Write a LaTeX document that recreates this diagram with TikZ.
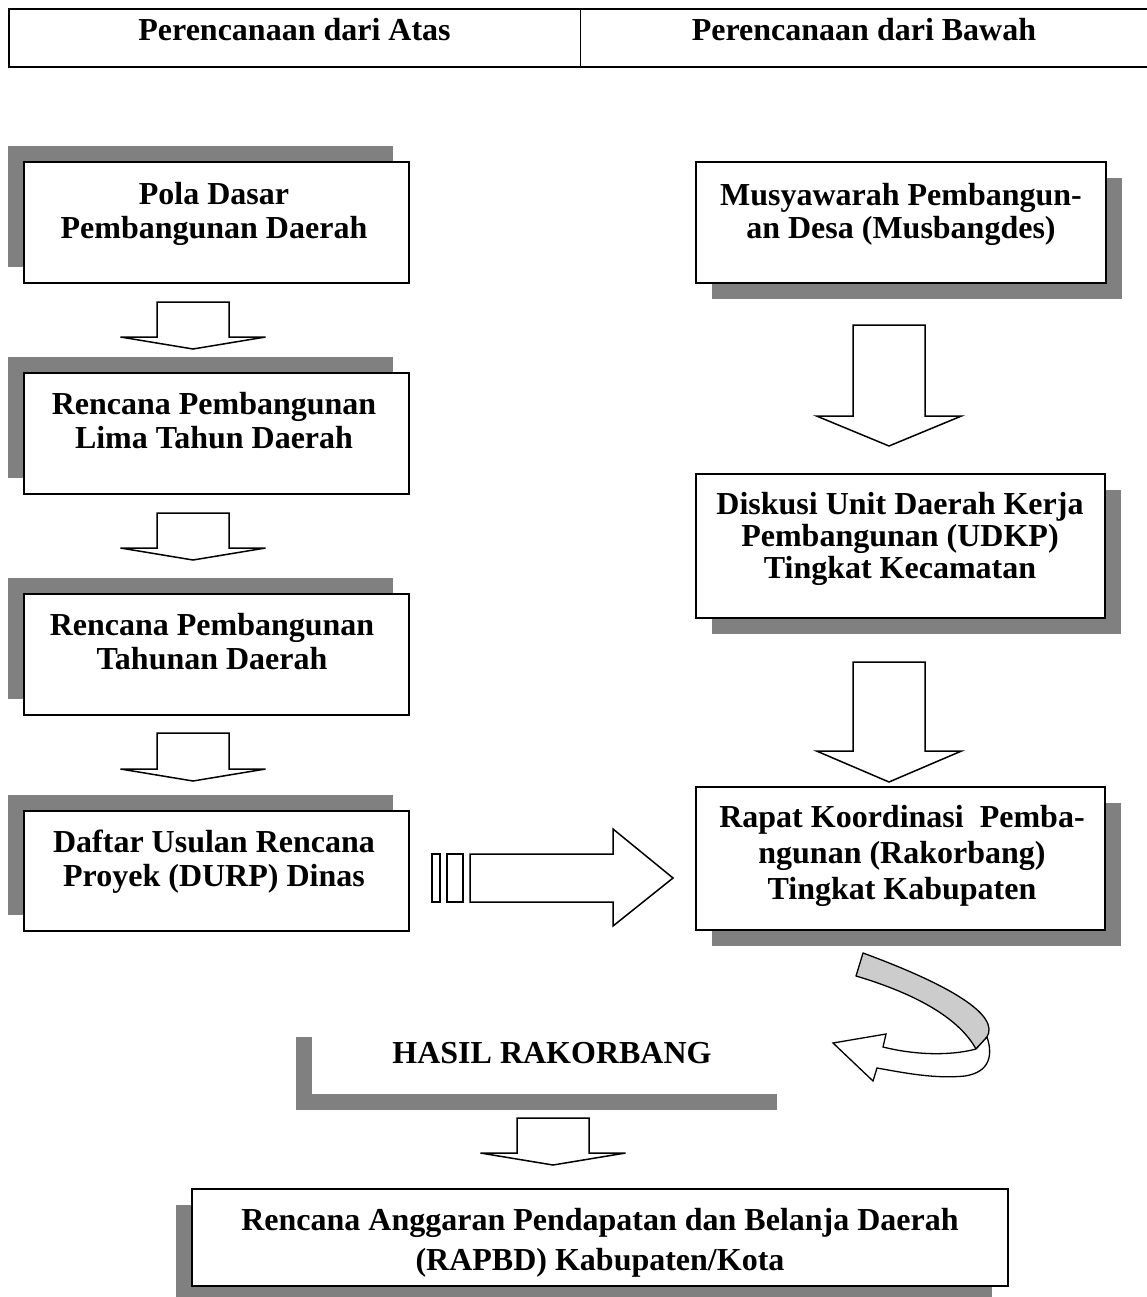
\documentclass[tikz,border=0pt]{standalone}
\usepackage{fontspec}
\setmainfont{Liberation Serif}
\definecolor{shd}{HTML}{808080}
\definecolor{curvg}{HTML}{CCCCCC}
\newcommand{\lnstrut}{\rule[-7pt]{0pt}{29pt}}
\begin{document}
\begin{tikzpicture}[x=1pt,y=-1pt,
  box/.style={draw, line width=1.8pt, fill=white, inner sep=0pt, outer sep=0pt},
  txt/.style={font=\bfseries\fontsize{32}{#1}\selectfont, align=center, inner sep=0pt},
  txt/.default=34,
  blockarrow/.style={draw, line width=1.5pt, fill=white, line join=miter},
  pics/downarr/.style 2 args={code={
    \draw[blockarrow] (-36,0) -- (36,0) -- (36,#1) -- (72.5,#1) -- (0,{#1+#2}) -- (-72.5,#1) -- (-36,#1) -- cycle;}}
]
\useasboundingbox (0,0) rectangle (1147,1297);

% header table
\draw[line width=2pt] (1147,9) -- (9,9) -- (9,67) -- (1147,67);
\draw[line width=1pt] (580,9) -- (580,67);
\node[txt] (hA) at (294.5,33) {\lnstrut Perencanaan dari Atas};
\node[txt] (hB) at (864,33) {\lnstrut Perencanaan dari Bawah};

% left column
\fill[shd] (8,146) rectangle (393,267);
\node[box, minimum width=385pt, minimum height=121pt] (pola) at (216.5,222.5) {};
\node[txt] (polat) at (214,213.5) {\lnstrut Pola Dasar\\\lnstrut Pembangunan Daerah};

\pic (a1) at (193,302) {downarr={35}{12}};

\fill[shd] (8,357) rectangle (393,478);
\node[box, minimum width=385pt, minimum height=121pt] (lima) at (216.5,433.5) {};
\node[txt] (limat) at (214,424) {\lnstrut Rencana Pembangunan\\\lnstrut Lima Tahun Daerah};

\pic (a2) at (193,513) {downarr={35}{12}};

\fill[shd] (8,578) rectangle (393,699);
\node[box, minimum width=385pt, minimum height=121pt] (tahun) at (216.5,654.5) {};
\node[txt] (tahunt) at (212,644.5) {\lnstrut Rencana Pembangunan\\\lnstrut Tahunan Daerah};

\pic (a3) at (193,733) {downarr={36}{12}};

\fill[shd] (8,795) rectangle (393,915);
\node[box, minimum width=385pt, minimum height=120pt] (durp) at (216.5,871) {};
\node[txt] (durpt) at (214,862) {\lnstrut Daftar Usulan Rencana\\\lnstrut Proyek (DURP) Dinas};

% right column
\fill[shd] (712,178) rectangle (1122,299);
\node[box, minimum width=410pt, minimum height=121pt] (musb) at (901,222.5) {};
\node[txt=33] (musbt) at (901,214.5) {\lnstrut Musyawarah Pembangun-\\\lnstrut an Desa (Musbangdes)};

\pic (a4) at (889,325) {downarr={91}{30}};

\fill[shd] (712,490) rectangle (1121,634);
\node[box, minimum width=409pt, minimum height=144pt] (udkp) at (900.5,546) {};
\node[txt=32] (udkpt) at (900,539) {\lnstrut Diskusi Unit Daerah Kerja\\\lnstrut Pembangunan (UDKP)\\\lnstrut Tingkat Kecamatan};

\pic (a5) at (889,662) {downarr={89}{31}};

\fill[shd] (712,803) rectangle (1121,946);
\node[box, minimum width=409pt, minimum height=143pt] (rakor) at (900.5,858.5) {};
\node[txt=36] (rakort) at (902,856) {\lnstrut Rapat Koordinasi~ Pemba-\\\lnstrut ngunan (Rakorbang)\\\lnstrut Tingkat Kabupaten};

% horizontal block arrow
\draw[blockarrow] (432,854) rectangle (440,902);
\draw[blockarrow] (447,854) rectangle (463,902);
\draw[blockarrow] (470,854) -- (613,854) -- (613,829) -- (673,878) -- (613,926) -- (613,902) -- (470,902) -- cycle;

% curved arrow
\filldraw[fill=curvg, line width=1.3pt, line join=round] (856,976) -- (863,953) .. controls (950,985) and (1000,1015) .. (987,1037) -- (976,1049) .. controls (960,1020) and (920,995) .. (856,976) -- cycle;
\filldraw[fill=white, line width=1.3pt, line join=miter] (833,1043) -- (886,1034) -- (883,1047) .. controls (915,1055) and (950,1056) .. (976,1049) -- (987,1037) .. controls (993,1055) and (990,1072) .. (965,1076) .. controls (935,1079) and (905,1073) .. (877,1068) -- (873,1081) -- cycle;

% hasil rakorbang
\fill[shd] (296,1037) rectangle (777,1110);
\node[fill=white, inner sep=0pt, minimum width=481pt, minimum height=73pt] (hasil) at (552.5,1057.5) {};
\node[txt] (hasilt) at (552,1056) {\lnstrut HASIL RAKORBANG};

\pic (a6) at (553,1118) {downarr={35}{12}};

% RAPBD
\fill[shd] (176,1205) rectangle (992,1297);
\node[box, minimum width=816pt, minimum height=97pt] (rapbd) at (600,1237.5) {};
\node[txt=40] (rapbdt) at (600,1243) {\lnstrut Rencana Anggaran Pendapatan dan Belanja Daerah\\\lnstrut (RAPBD) Kabupaten/Kota};
\end{tikzpicture}
\end{document}
